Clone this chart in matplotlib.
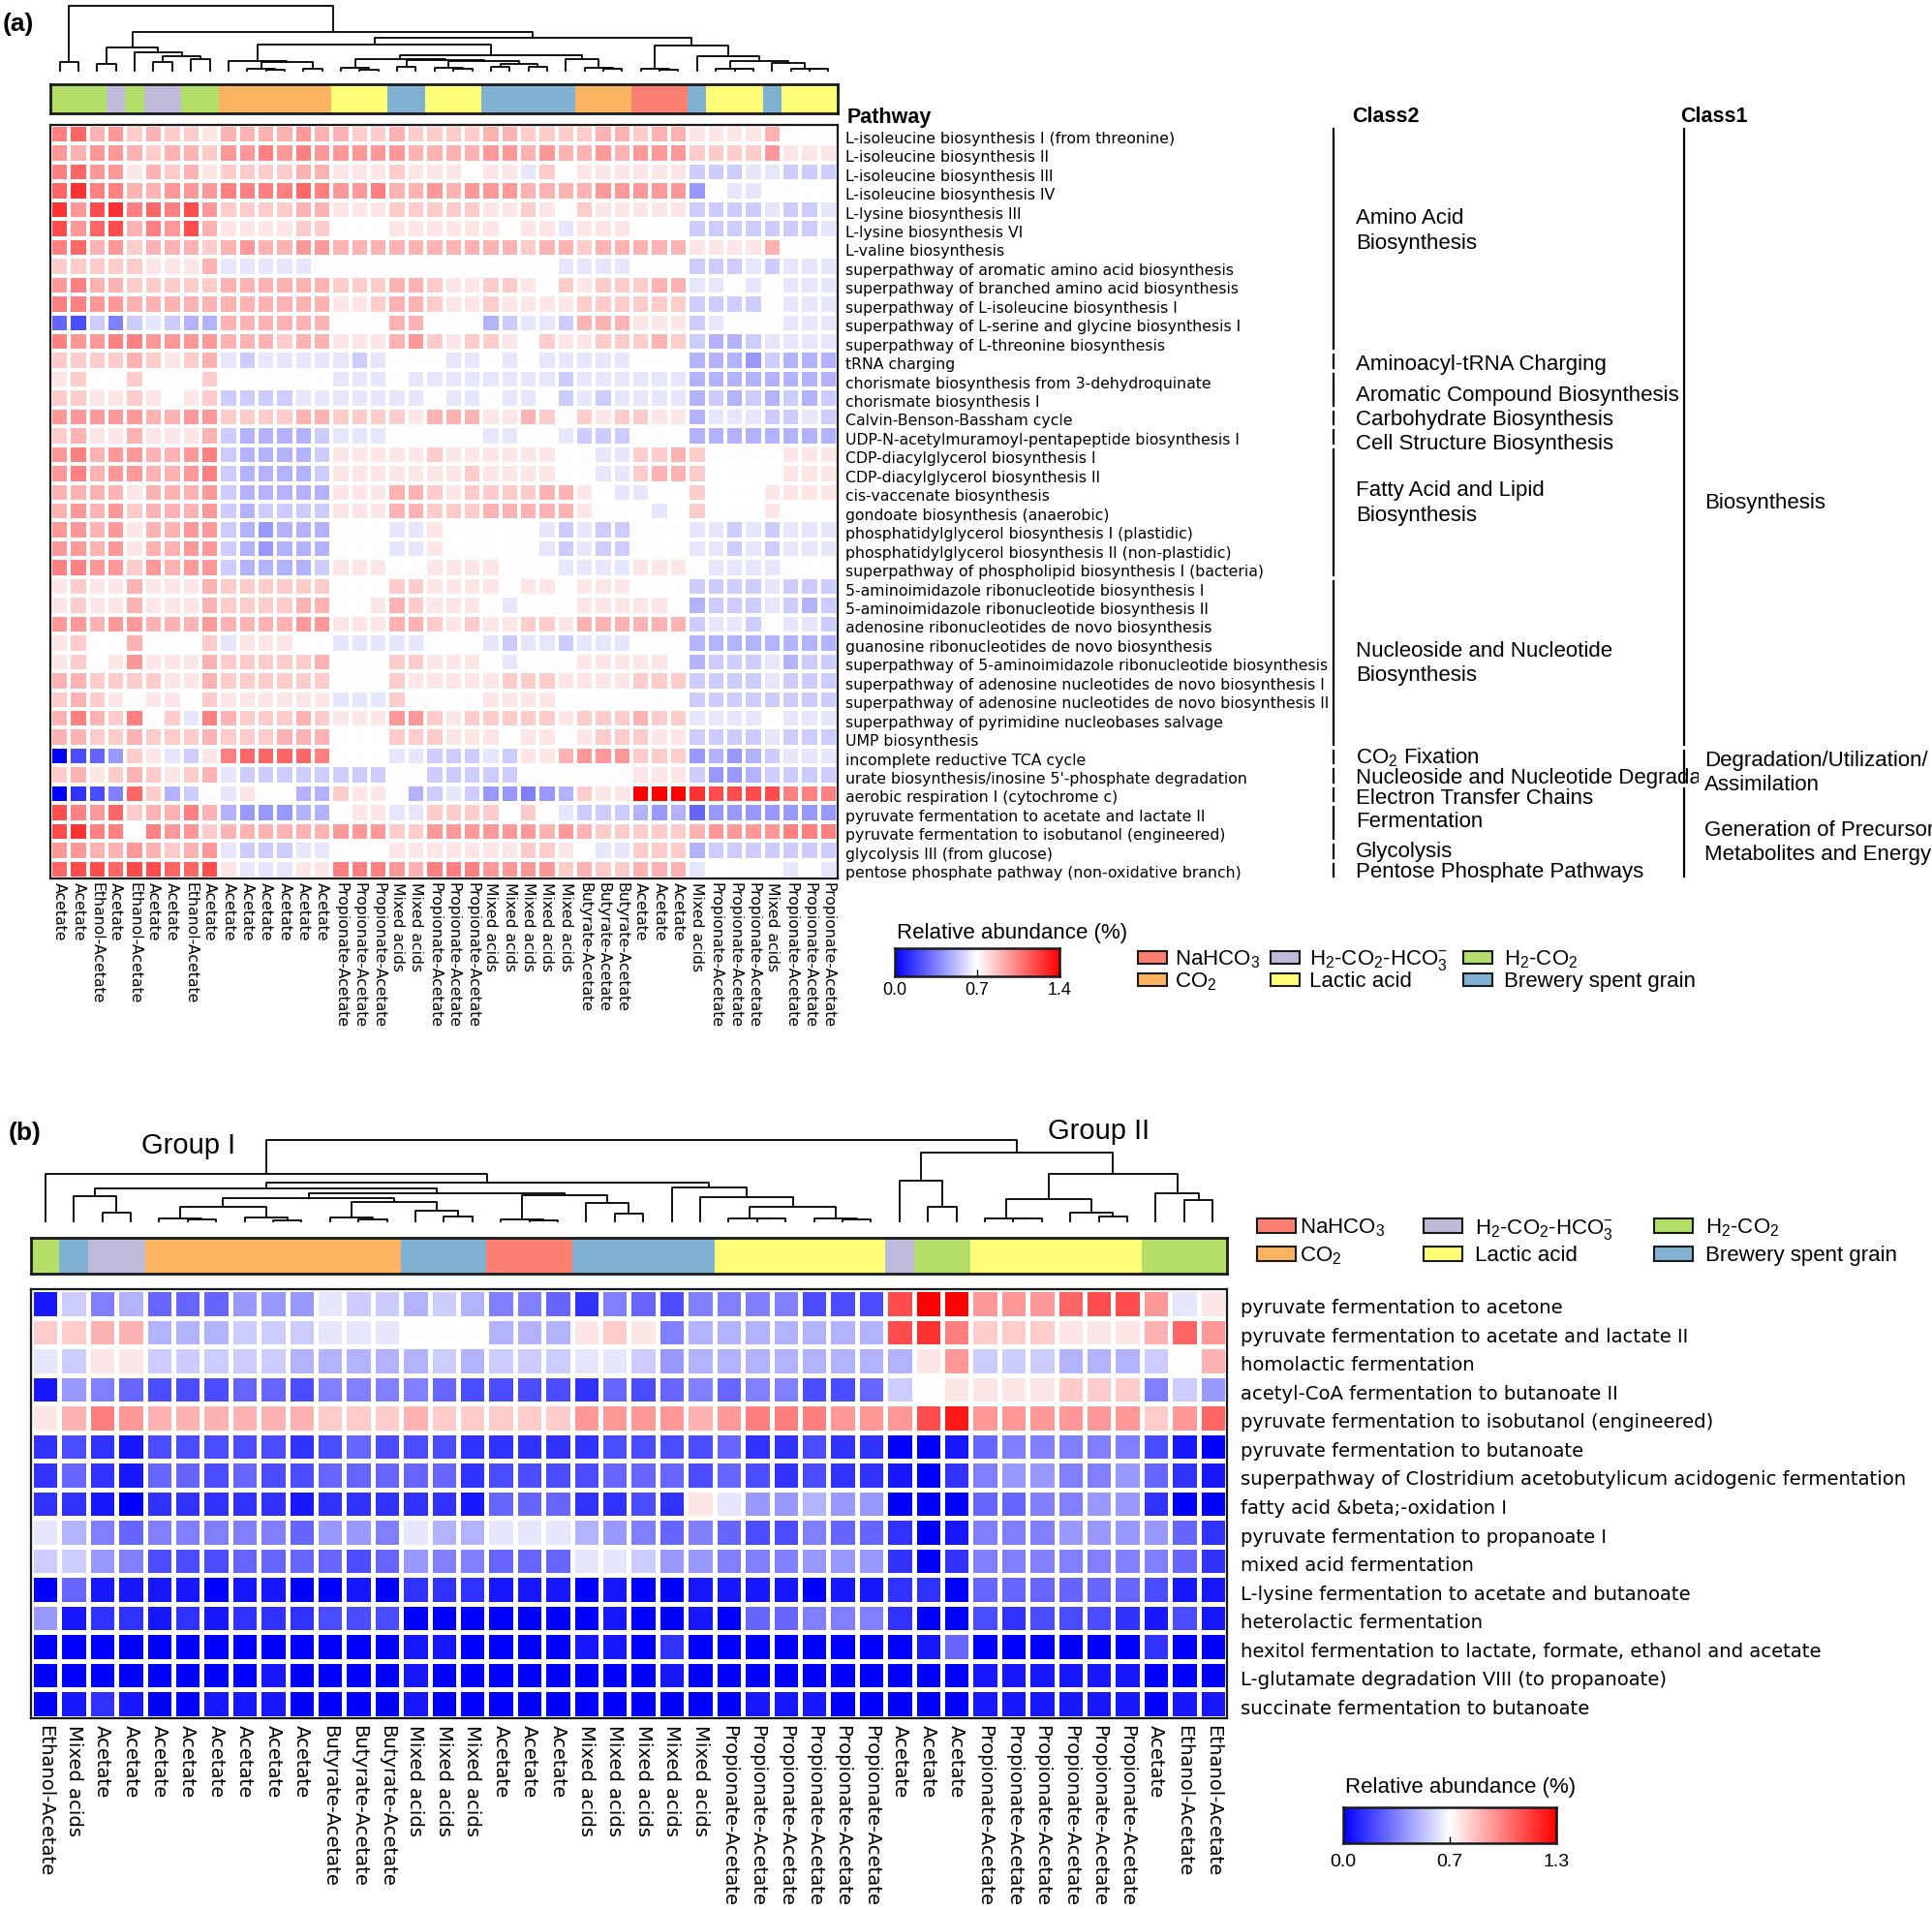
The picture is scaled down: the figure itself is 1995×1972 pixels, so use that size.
import numpy as np
import matplotlib
matplotlib.use("Agg")
import matplotlib.pyplot as plt
from matplotlib.colors import to_rgb
from matplotlib.patches import Rectangle
from matplotlib.transforms import ScaledTranslation

W, H = 1995, 1972
plt.rcParams['font.family'] = ['DejaVu Sans']
plt.rcParams['mathtext.fontset'] = 'custom'
plt.rcParams['mathtext.rm'] = 'Liberation Sans'
plt.rcParams['mathtext.default'] = 'rm'
ARIAL = ['Liberation Sans', 'DejaVu Sans']

# ---------------- data ----------------
SOURCE_COLORS = {
    'NaHCO3': '#FB8072',
    'CO2': '#FDB462',
    'H2-CO2-HCO3-': '#BEBADA',
    'Lactic acid': '#FFFF77',
    'H2-CO2': '#B3DE69',
    'Brewery spent grain': '#80B1D3',
}
SOURCE_LABELS = {
    'NaHCO3': 'NaHCO$_3$', 'CO2': 'CO$_2$', 'H2-CO2-HCO3-': 'H$_2$-CO$_2$-HCO$_3^{-}$',
    'Lactic acid': 'Lactic acid', 'H2-CO2': 'H$_2$-CO$_2$', 'Brewery spent grain': 'Brewery spent grain',
}
LEGEND_ORDER = ['NaHCO3', 'CO2', 'H2-CO2-HCO3-', 'Lactic acid', 'H2-CO2', 'Brewery spent grain']

# cell values are read as levels: a = 0, k = middle (white), u = max of the scale
LEVELS = 'abcdefghijklmnopqrstu'

pathways_a = [
    'L-isoleucine biosynthesis I (from threonine)', 'L-isoleucine biosynthesis II',
    'L-isoleucine biosynthesis III', 'L-isoleucine biosynthesis IV', 'L-lysine biosynthesis III',
    'L-lysine biosynthesis VI', 'L-valine biosynthesis', 'superpathway of aromatic amino acid biosynthesis',
    'superpathway of branched amino acid biosynthesis', 'superpathway of L-isoleucine biosynthesis I',
    'superpathway of L-serine and glycine biosynthesis I', 'superpathway of L-threonine biosynthesis',
    'tRNA charging', 'chorismate biosynthesis from 3-dehydroquinate', 'chorismate biosynthesis I',
    'Calvin-Benson-Bassham cycle', 'UDP-N-acetylmuramoyl-pentapeptide biosynthesis I',
    'CDP-diacylglycerol biosynthesis I', 'CDP-diacylglycerol biosynthesis II', 'cis-vaccenate biosynthesis',
    'gondoate biosynthesis (anaerobic)', 'phosphatidylglycerol biosynthesis I (plastidic)',
    'phosphatidylglycerol biosynthesis II (non-plastidic)',
    'superpathway of phospholipid biosynthesis I (bacteria)',
    '5-aminoimidazole ribonucleotide biosynthesis I', '5-aminoimidazole ribonucleotide biosynthesis II',
    'adenosine ribonucleotides de novo biosynthesis', 'guanosine ribonucleotides de novo biosynthesis',
    'superpathway of 5-aminoimidazole ribonucleotide biosynthesis',
    'superpathway of adenosine nucleotides de novo biosynthesis I',
    'superpathway of adenosine nucleotides de novo biosynthesis II',
    'superpathway of pyrimidine nucleobases salvage', 'UMP biosynthesis', 'incomplete reductive TCA cycle',
    "urate biosynthesis/inosine 5'-phosphate degradation", 'aerobic respiration I (cytochrome c)',
    'pyruvate fermentation to acetate and lactate II', 'pyruvate fermentation to isobutanol (engineered)',
    'glycolysis III (from glucose)', 'pentose phosphate pathway (non-oxidative branch)',
]

cells_a = [
    'pqnomnmmlnnnnonnmmnmm' 'mmnnmmmmnnmnnllllnkkk',
    'onoonmnnmoopopooooonn' 'nnoononnonooommmmolll',
    'pqoolnmnlmmmmnnlllmll' 'lklljmklllllliiijjiii',
    'qsppnnoooppppqpoopnno' 'nooonnnnooooogkjjkkkk',
    'sorspqprommmmnnlllmmm' 'mmllmlkmllllliiiijiij',
    'roqrnpornllllmmkkklll' 'lllklljlllkkkiiiiiiij',
    'pqnomnnnmnonnoonnnnnn' 'nnnnmnnmnnnnnllllnkkk',
    'mmmmmlllnjjjjjkkkkkkk' 'kkkkkkjjjjkkkiiijijjj',
    'opnnmmmmmnnnnnnmmmnnm' 'llmmlkmlmmmnnjjkjkjjj',
    'ppoonnnnnnnnnnnllmnnm' 'llmllllmmmmmmiiiikjjj',
    'edifijihhnnnnnnkkknnk' 'kkhijjinnnlllijkkkjjj',
    'pooppoooonnnmnnlllnom' 'lmmlkmllmmmnmihhijjjj',
    'mmmmnmlmnjijjjjjijkkk' 'jjkjkjjjjjkkkhhhgihhh',
    'lmkkmkkkmkkkkkkjjjkjj' 'jjjjjjijjjjjjhhhhhhhh',
    'mmllmlklmiiiijjjjjjjk' 'jjkjjkijijjjjhihihihi',
    'ooooonnoommmmnnmmmmln' 'nnllnmkmlmmllhjjjiiji',
    'mnllnlllnihhhhijjjkkk' 'kkjjkkjiiikkkhhhhhhhh',
    'opnoonnopihhhhilllllm' 'llllllkkjjmmnmkkkklll',
    'opnoonnopihhhhillllll' 'lmllllkkjjmnnmkkkklll',
    'nnnnlnnnoihhhhhlllnnm' 'lmmmmnnlkjjkkmkkkllll',
    'nonomnnnoihiiiilllnnm' 'mmnnnnnlkkkjkmkkklkkk',
    'oonolnnooihghhhkkkjjl' 'kkkkkjijiikkkjjijijjj',
    'oonolnnooihghhhkkkjjl' 'kkkkkjijiikkkjjijijjj',
    'ppoomonooihhhhilllkkl' 'lllkkkjjjjlllkjjjjkkk',
    'lmllnlllnmmmmmmkkkmml' 'lllkllklllkkkiiiijiii',
    'lmllnlllnmmmmnnkklnml' 'llkjkkklllllkhiiijihi',
    'oonoonnnonnnnoolllnnm' 'lmllmmlnnnnnnijjikjji',
    'lmkknkkkmjlllkkjjjjjk' 'kkjijjijjjkkkhhhhhhhh',
    'lmklolllnmmmmmnkkkmml' 'llkjkkklllllkhiiijhii',
    'nnmmmmllnmmmmmmkkkmll' 'lllmmmllllmmmiiiijiii',
    'mnmlkllkmlllllljjjmkk' 'kkllllkkkkkkkiiiiiiii',
    'npnmpkmjpnmmmnmllloom' 'lmmmmmlmmmnmmjjjjkjjj',
    'nnmmnmmmnmmmnnnkkkmmm' 'lllkllklmmmlliiiijiii',
    'adegmljilpqqqqpkkkjji' 'iijillnooommmghghijjj',
    'mnlmnmlmnjiiiiiiiikki' 'iiiikkkkkkllligghiiii',
    'acdfqmhikjlkkhhmllkhi' 'jiggfghmlluuusrrrrppp',
    'rpoqmnnpnhggghhklljjm' 'mmmkmkjiiihgheggggggg',
    'rsppkpoomnnnnnnooommo' 'ooooononmmmmmnooooppp',
    'oonnonmnojiiijjkkklll' 'llllmmlkjjmmmhiiiiiii',
    'qrrqrrqqrljjjllppponp' 'ppoooomnmmnnnjkkkkjkj',
]

samples_a = (['Acetate', 'Acetate', 'Ethanol-Acetate', 'Acetate', 'Ethanol-Acetate', 'Acetate', 'Acetate',
              'Ethanol-Acetate', 'Acetate'] + ['Acetate'] * 6 + ['Propionate-Acetate'] * 3
             + ['Mixed acids'] * 2 + ['Propionate-Acetate'] * 3 + ['Mixed acids'] * 5
             + ['Butyrate-Acetate'] * 3 + ['Acetate'] * 3 + ['Mixed acids'] + ['Propionate-Acetate'] * 3
             + ['Mixed acids'] + ['Propionate-Acetate'] * 3)

source_runs_a = [('H2-CO2', 3), ('H2-CO2-HCO3-', 1), ('H2-CO2', 1), ('H2-CO2-HCO3-', 2), ('H2-CO2', 2),
                 ('CO2', 6), ('Lactic acid', 3), ('Brewery spent grain', 2), ('Lactic acid', 3),
                 ('Brewery spent grain', 5), ('CO2', 3), ('NaHCO3', 3), ('Brewery spent grain', 1),
                 ('Lactic acid', 3), ('Brewery spent grain', 1), ('Lactic acid', 3)]

# column clustering: (left, right, merge height); ints are column indices
tree_a = ((0, 1, 28),
          (((2, 3, 20), (4, ((5, 6, 28), (7, 8, 35), 45), 57), 72),
           (((9, (((10, (11, 12, 3), 6), (13, 14, 6), 27)), 30),
             (((15, (16, 17, 4), 8),
               ((18, 19, 12), ((20, (21, 22, 6), 10), ((23, 24, 12), (25, 26, 12), 22), 30), 32), 35),
              (27, (28, (29, 30, 5), 10), 35), 48), 80),
            ((31, (32, 33, 4), 6),
             (34, ((35, (36, 37, 5), 6), (38, (39, (40, 41, 5), 6), 24), 30), 45), 78), 104), 120), 202)

# (label, first row, last row, row at which the label sits)
class2_a = [('Amino Acid\nBiosynthesis', 0, 11, 5.63), ('Aminoacyl-tRNA Charging', 12, 12, 12.73),
            ('Aromatic Compound Biosynthesis', 13, 14, 14.37), ('Carbohydrate Biosynthesis', 15, 15, 15.67),
            ('Cell Structure Biosynthesis', 16, 16, 16.92), ('Fatty Acid and Lipid\nBiosynthesis', 17, 23, 20.09),
            ('Nucleoside and Nucleotide\nBiosynthesis', 24, 32, 28.59), ('CO$_2$ Fixation', 33, 33, 33.6),
            ('Nucleoside and Nucleotide Degradation', 34, 34, 34.7), ('Electron Transfer Chains', 35, 35, 35.76),
            ('Fermentation', 36, 37, 37.0), ('Glycolysis', 38, 38, 38.57),
            ('Pentose Phosphate Pathways', 39, 39, 39.68)]
class1_a = [('Biosynthesis', 0, 32, 20.1),
            ('Degradation/Utilization/\nAssimilation', 33, 34, 34.4),
            ('Generation of Precursor\nMetabolites and Energy', 35, 39, 38.1)]

pathways_b = [
    'pyruvate fermentation to acetone', 'pyruvate fermentation to acetate and lactate II',
    'homolactic fermentation', 'acetyl-CoA fermentation to butanoate II',
    'pyruvate fermentation to isobutanol (engineered)', 'pyruvate fermentation to butanoate',
    'superpathway of Clostridium acetobutylicum acidogenic fermentation', 'fatty acid &beta;-oxidation I',
    'pyruvate fermentation to propanoate I', 'mixed acid fermentation',
    'L-lysine fermentation to acetate and butanoate', 'heterolactic fermentation',
    'hexitol fermentation to lactate, formate, ethanol and acetate',
    'L-glutamate degradation VIII (to propanoate)', 'succinate fermentation to butanoate',
]

cells_b = [
    'bifheeegggjiihihffecf' 'edffffdddruuoooqrrojl',
    'mmnnhhhiiijjjkkkhhhlm' 'lfhhhhhhhrspmmmlllnqo',
    'jilliiiiihhhhhihiiijj' 'ighhhhhhhhloiiihhhikn',
    'bgfedddeedffffeddddce' 'defeffddeikllllmmmfig',
    'lnponnnnnnmmmnmmmmmoo' 'oonopppooortoooooomoq',
    'cdcbdddddcdedddcccccd' 'dddeccdccaabefffffdba',
    'cecbeededdeeeeecdddde' 'eededcdccbacfggffgecb',
    'ccbacccccbcccccbeeecc' 'dcljgghggaaaeeffggcaa',
    'jhfefffffeggfjhhjjjhg' 'fefeddfeecabfffggggec',
    'iigfdddeeeedegffeeejj' 'iggfffgggcacfffffffec',
    'aebbbbabbaabacccbbbab' 'aabbbbabbccaeeeeeedbb',
    'gbccbcbcccdddaaaaaaab' 'aabaeefffcaadcdddcbdb',
    'aaaaaaaaaaaaabbaaaabb' 'acaaaaaaaabeaaaaaacaa',
    'aaaaaaaabaaaabaaaaaaa' 'abaaaaaaaaaabbbbbbaaa',
    'abcbaabbbaaaabaaaaaaa' 'aaaabbbaaaaabbbbbbabb',
]

samples_b = (['Ethanol-Acetate', 'Mixed acids'] + ['Acetate'] * 8 + ['Butyrate-Acetate'] * 3
             + ['Mixed acids'] * 3 + ['Acetate'] * 3 + ['Mixed acids'] * 5 + ['Propionate-Acetate'] * 6
             + ['Acetate'] * 3 + ['Propionate-Acetate'] * 6 + ['Acetate'] + ['Ethanol-Acetate'] * 2)

source_runs_b = [('H2-CO2', 1), ('Brewery spent grain', 1), ('H2-CO2-HCO3-', 2), ('CO2', 9),
                 ('Brewery spent grain', 3), ('NaHCO3', 3), ('Brewery spent grain', 5), ('Lactic acid', 6),
                 ('H2-CO2-HCO3-', 1), ('H2-CO2', 2), ('Lactic acid', 6), ('H2-CO2', 3)]

tree_b = ((0, (((1, (2, 3, 27), 76),
                ((((4, (5, 6, 5), 9), (7, (8, 9, 2), 12), 44),
                  ((10, (11, 12, 7), 12), (13, (14, 15, 15), 32), 60), 72),
                 ((16, (17, 18, 4), 5), (19, (20, 21, 25), 57), 80), 85), 100),
               (22, (23, ((24, (25, 26, 8), 10), (27, (28, 29, 7), 10), 44), 75), 104), 120), 147),
          ((30, (31, 32, 44), 124),
           (((33, (34, 35, 8), 10), (36, (37, 38, 15), 27), 67), (39, (40, 41, 66), 86), 147), 212), 250)


# ---------------- drawing helpers ----------------
fig = plt.figure(figsize=(W / 100, H / 100), dpi=100)


def add_ax(x0, y0, x1, y1):
    return fig.add_axes([x0 / W, 1 - y1 / H, (x1 - x0) / W, (y1 - y0) / H])


def frame(ax, lw):
    for s in ax.spines.values():
        s.set_color('#1a1a1a')
        s.set_linewidth(lw)


def draw_heat(ax, rows, vmax, names, samples, grid_lw, fs, row_pad, col_pad, row_shift):
    vals = np.array([[LEVELS.index(ch) / 20 * vmax for ch in r] for r in rows])
    nr, nc = vals.shape
    ax.pcolormesh(vals, cmap='bwr', vmin=0, vmax=vmax, edgecolors='white', linewidth=grid_lw)
    ax.set_xlim(0, nc)
    ax.set_ylim(nr, 0)
    ax.set_yticks(np.arange(nr) + 0.5, names)
    ax.yaxis.tick_right()
    ax.set_xticks(np.arange(nc) + 0.5, samples, rotation=270)
    ax.tick_params(axis='y', length=0, pad=row_pad, labelsize=fs)
    ax.tick_params(axis='x', length=0, pad=col_pad, labelsize=fs)
    shift = ScaledTranslation(0, -row_shift / 100, fig.dpi_scale_trans)
    for lab in ax.get_yticklabels():
        lab.set_transform(lab.get_transform() + shift)
    frame(ax, 1.6)


def draw_strip(ax, runs):
    cols = []
    for name, n in runs:
        cols += [to_rgb(SOURCE_COLORS[name])] * n
    ax.imshow(np.array([cols]), aspect='auto', extent=(0, len(cols), 0, 1), interpolation='nearest')
    ax.set_xticks([])
    ax.set_yticks([])
    frame(ax, 2.0)


def draw_tree(ax, node):
    if isinstance(node, int):
        return node + 0.5, 0.0
    left, right, h = node
    xl, hl = draw_tree(ax, left)
    xr, hr = draw_tree(ax, right)
    ax.plot([xl, xl, xr, xr], [hl, h, h, hr], color='black', lw=1.3, clip_on=False)
    return (xl + xr) / 2, h


def dendro(ax, tree, n):
    _, top = draw_tree(ax, tree)
    ax.set_xlim(0, n)
    ax.set_ylim(0, top)
    ax.axis('off')


def draw_scale(ax, vmax, ticks, labels, fs, pad):
    ax.imshow(np.linspace(0, vmax, 256)[None, :], cmap='bwr', aspect='auto', extent=(0, vmax, 0, 1))
    ax.set_yticks([])
    ax.set_xticks(ticks, labels)
    ax.tick_params(axis='x', direction='in', length=5, width=1, pad=pad, labelsize=fs)
    for lab in ax.get_xticklabels():
        lab.set_fontfamily(ARIAL)
    frame(ax, 1.8)


# ---------------- panel (a) ----------------
A_BOX = (52, 129, 865, 907)
draw_heat(add_ax(*A_BOX), cells_a, 1.4, pathways_a, samples_a, 1.5, 11.3, 6, 3, 3)
draw_strip(add_ax(52, 87, 865, 117), source_runs_a)
dendro(add_ax(52, 6, 865, 73), tree_a, 42)
draw_scale(add_ax(924, 979, 1094, 1008), 1.4, [0, 0.7, 1.4], ['0.0', '0.7', '1.4'], 13, 4)

# ---------------- panel (b) ----------------
draw_heat(add_ax(32, 1331, 1267, 1774), cells_b, 1.3, pathways_b, samples_b, 2.4, 14.1, 10, 5, 3)
draw_strip(add_ax(32, 1278, 1267, 1315), source_runs_b)
dendro(add_ax(32, 1177, 1267, 1261), tree_b, 42)
draw_scale(add_ax(1387, 1866, 1607, 1903), 1.3, [0, 0.65, 1.3], ['0.0', '0.7', '1.3'], 14, 8)

# ---------------- overlay: texts, class brackets, legends ----------------
ov = fig.add_axes([0, 0, 1, 1])
ov.set_xlim(0, W)
ov.set_ylim(H, 0)
ov.axis('off')

ov.text(3, 25, '(a)', fontsize=19, weight='bold', family=ARIAL, va='center')
ov.text(9, 1170, '(b)', fontsize=19, weight='bold', family=ARIAL, va='center')
ov.text(875, 121, 'Pathway', fontsize=15.5, weight='bold', family=ARIAL, va='center')
ov.text(1396, 121, 'Class2', fontsize=15.5, weight='bold', family=ARIAL, va='center')
ov.text(1735, 121, 'Class1', fontsize=15.5, weight='bold', family=ARIAL, va='center')
ov.text(146, 1183, 'Group I', fontsize=21, family=ARIAL, va='center')
ov.text(1082, 1168, 'Group II', fontsize=21, family=ARIAL, va='center')
ov.text(926, 963, 'Relative abundance (%)', fontsize=16, family=ARIAL, va='center')
ov.text(1389, 1845, 'Relative abundance (%)', fontsize=16, family=ARIAL, va='center')

top_a, bot_a = A_BOX[1], A_BOX[3]
rh = (bot_a - top_a) / len(pathways_a)
clip = Rectangle((0, 0), 1754, H, transform=ov.transData)
for label, r0, r1, rc in class2_a:
    ov.plot([1377, 1377], [top_a + r0 * rh + 4, top_a + (r1 + 1) * rh - 2], color='black', lw=1.6)
    t = ov.text(1400, top_a + rc * rh, label, fontsize=16, family=ARIAL,
                va='center', ha='left', linespacing=1.3)
    t.set_clip_on(True)
    t.set_clip_path(clip)
for label, r0, r1, rc in class1_a:
    ov.plot([1739, 1739], [top_a + r0 * rh + 4, top_a + (r1 + 1) * rh - 2], color='black', lw=1.6)
    ov.text(1760, top_a + rc * rh, label, fontsize=16, family=ARIAL, va='center', ha='left',
            linespacing=1.3)


def draw_legend(patch_x, text_x, rows_y, pw, ph, fs):
    for i, key in enumerate(LEGEND_ORDER):
        c, r = divmod(i, 2)
        ov.add_patch(Rectangle((patch_x[c], rows_y[r] - ph / 2), pw, ph, facecolor=SOURCE_COLORS[key],
                               edgecolor='#1a1a1a', lw=1.5))
        ov.text(text_x[c], rows_y[r], SOURCE_LABELS[key], fontsize=fs, family=ARIAL,
                va='center_baseline', ha='left')


draw_legend([1175, 1312, 1511], [1213, 1352, 1553], [988, 1011], 30, 13, 16)
draw_legend([1298, 1470, 1708], [1342, 1523, 1761], [1265, 1294], 40, 15, 16)

fig.savefig('out.png', dpi=100)
